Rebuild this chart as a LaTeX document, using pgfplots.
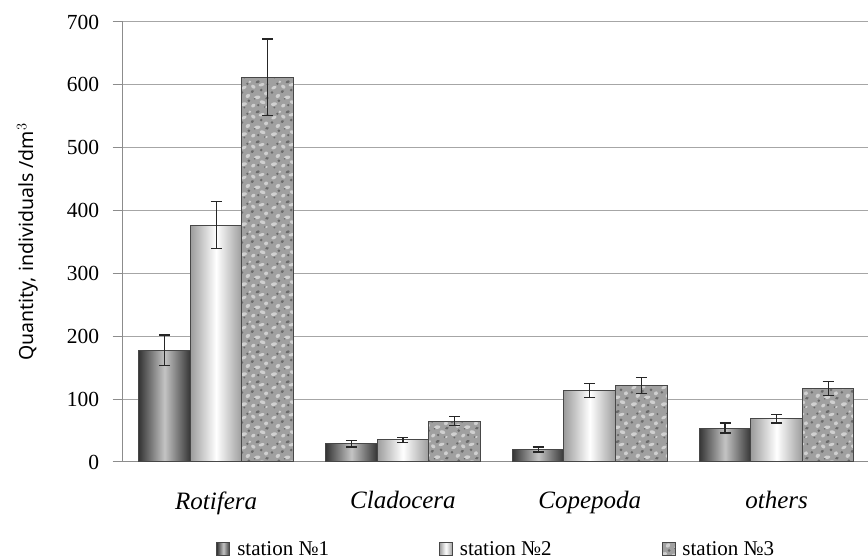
\documentclass[border=0pt]{standalone}
\usepackage{pgfplots}
\pgfplotsset{compat=1.18}
\usepackage{fontspec}
\setmainfont{Liberation Serif}
\newfontfamily\labelfont{Noto Sans}
\usetikzlibrary{patterns}

\definecolor{gridgray}{HTML}{A6A6A6}
\definecolor{axisgray}{HTML}{8C8C8C}
\definecolor{barline}{HTML}{474747}
\definecolor{darkedge}{HTML}{353535}
\definecolor{darkmid}{HTML}{C4C4C4}
\definecolor{lightedge}{HTML}{9C9C9C}
\definecolor{mottlebase}{HTML}{A0A0A0}
\definecolor{mottlelight}{HTML}{D0D0D0}
\definecolor{mottledark}{HTML}{6A6A6A}

% irregular blotches giving a granite-like texture
\pgfdeclarepatternformonly{mottleLight}{\pgfqpoint{0pt}{0pt}}{\pgfqpoint{30pt}{30pt}}{\pgfqpoint{30pt}{30pt}}{%
  \pgfpathellipse{\pgfqpoint{4pt}{5pt}}{\pgfqpoint{3.0pt}{0.8pt}}{\pgfqpoint{-0.7pt}{1.7pt}}
  \pgfpathellipse{\pgfqpoint{13.5pt}{3.5pt}}{\pgfqpoint{2.0pt}{1.2pt}}{\pgfqpoint{-0.8pt}{1.5pt}}
  \pgfpathellipse{\pgfqpoint{23pt}{7pt}}{\pgfqpoint{2.8pt}{-1.0pt}}{\pgfqpoint{0.7pt}{1.7pt}}
  \pgfpathellipse{\pgfqpoint{8pt}{13.5pt}}{\pgfqpoint{1.7pt}{1.7pt}}{\pgfqpoint{-1.4pt}{1.3pt}}
  \pgfpathellipse{\pgfqpoint{17.5pt}{12pt}}{\pgfqpoint{3.2pt}{0.6pt}}{\pgfqpoint{-0.5pt}{1.8pt}}
  \pgfpathellipse{\pgfqpoint{26.5pt}{16pt}}{\pgfqpoint{1.8pt}{1.1pt}}{\pgfqpoint{-0.9pt}{1.7pt}}
  \pgfpathellipse{\pgfqpoint{4pt}{22pt}}{\pgfqpoint{2.5pt}{1.2pt}}{\pgfqpoint{-0.7pt}{1.4pt}}
  \pgfpathellipse{\pgfqpoint{13.5pt}{23pt}}{\pgfqpoint{1.9pt}{-1.5pt}}{\pgfqpoint{1.1pt}{1.4pt}}
  \pgfpathellipse{\pgfqpoint{22pt}{25pt}}{\pgfqpoint{2.9pt}{0.9pt}}{\pgfqpoint{-0.5pt}{1.5pt}}
  \pgfpathellipse{\pgfqpoint{10pt}{28pt}}{\pgfqpoint{1.4pt}{0.6pt}}{\pgfqpoint{-0.3pt}{1.2pt}}
  \pgfpathellipse{\pgfqpoint{27pt}{2pt}}{\pgfqpoint{1.3pt}{0.5pt}}{\pgfqpoint{-0.3pt}{1.0pt}}
  \pgfusepath{fill}}
\pgfdeclarepatternformonly{mottleDark}{\pgfqpoint{0pt}{0pt}}{\pgfqpoint{30pt}{30pt}}{\pgfqpoint{30pt}{30pt}}{%
  \pgfpathcircle{\pgfqpoint{9pt}{8.5pt}}{1.5pt}
  \pgfpathcircle{\pgfqpoint{18.5pt}{4pt}}{1.3pt}
  \pgfpathellipse{\pgfqpoint{27.5pt}{11pt}}{\pgfqpoint{1.9pt}{0.6pt}}{\pgfqpoint{-0.5pt}{1.3pt}}
  \pgfpathcircle{\pgfqpoint{2pt}{17pt}}{1.4pt}
  \pgfpathellipse{\pgfqpoint{12.5pt}{18pt}}{\pgfqpoint{1.8pt}{0.8pt}}{\pgfqpoint{-0.5pt}{1.4pt}}
  \pgfpathcircle{\pgfqpoint{21.5pt}{19.5pt}}{1.5pt}
  \pgfpathcircle{\pgfqpoint{7.5pt}{26pt}}{1.3pt}
  \pgfpathellipse{\pgfqpoint{18pt}{28pt}}{\pgfqpoint{2.0pt}{0.7pt}}{\pgfqpoint{-0.3pt}{1.3pt}}
  \pgfpathcircle{\pgfqpoint{28pt}{25.5pt}}{1.1pt}
  \pgfpathcircle{\pgfqpoint{4.5pt}{1.5pt}}{1.0pt}
  \pgfpathcircle{\pgfqpoint{15pt}{10.5pt}}{0.9pt}
  \pgfpathcircle{\pgfqpoint{25pt}{2pt}}{0.8pt}
  \pgfusepath{fill}}

\pgfplotsset{
  st1/.style={draw=barline, line width=1pt, left color=darkedge, right color=darkedge, middle color=darkmid},
  st2/.style={draw=barline, line width=1pt, left color=lightedge, right color=lightedge, middle color=white},
  st3/.style={draw=barline, line width=1pt, fill=mottlebase,
    postaction={pattern=mottleLight, pattern color=mottlelight},
    postaction={pattern=mottleDark, pattern color=mottledark}},
  errstyle/.style={
    error bars/.cd, y dir=both, y explicit,
    error bar style={black!85, line width=1.2pt},
    error mark options={rotate=90, mark size=5.5pt, black!85, line width=1.2pt}},
}
% one bar drawn at its own x position: station style, x, mean, error
\newcommand{\stbar}[4]{%
  \addplot[ybar, bar width=0.276, bar shift=0pt, #1, forget plot, errstyle]
    coordinates {(#2,#3) +- (0,#4)};}

\begin{document}
\begin{tikzpicture}
\path[use as bounding box] (-122.7pt,-97pt) rectangle (745.3pt,462pt);
\begin{axis}[
  scale only axis,
  width=747.3pt, height=440pt,
  at={(0pt,0pt)}, anchor=south west,
  xmin=-0.5, xmax=3.5, ymin=0, ymax=700,
  axis x line*=bottom, axis y line*=left,
  axis line style={axisgray, line width=1pt},
  ytick={0,100,...,700},
  ymajorgrids, grid style={gridgray, line width=1pt},
  xtick={0,1,2,3},
  xticklabels={Rotifera,Cladocera,Copepoda,others},
  xtick style={draw=none},
  minor xtick={-0.5,0.5,1.5,2.5},
  minor tick length=7pt,
  major tick length=10pt,
  tick align=outside,
  ytick style={axisgray, line width=1pt},
  minor x tick style={axisgray, line width=1pt},
  /pgf/number format/assume math mode=true,
  ticklabel style={font=\fontsize{21.5}{24}\selectfont},
  xticklabel style={font=\fontsize{25}{28}\selectfont\itshape, yshift=-16pt},
  yticklabel style={xshift=-10pt},
  ylabel={Quantity, individuals /dm$^{3}$},
  ylabel style={font=\labelfont\fontsize{19.5}{22}\selectfont, at={(axis description cs:-0.127,0.5)}, anchor=center},
  legend columns=3,
  legend style={draw=none, fill=none, at={(0.5,-0.198)}, anchor=center,
    font=\fontsize{21}{24}\selectfont,
    /tikz/every odd column/.append style={column sep=5pt},
    /tikz/every even column/.append style={column sep=108pt}},
  legend image code/.code={\draw[#1, line width=0.8pt] (0pt,-6pt) rectangle (13pt,7pt);},
]
\addlegendimage{st1}
\addlegendimage{st2}
\addlegendimage{st3}
% Rotifera
\stbar{st1}{-0.276}{178}{24}
\stbar{st2}{0}{377}{37}
\stbar{st3}{0.276}{612}{61}
% Cladocera
\stbar{st1}{0.724}{29}{5}
\stbar{st2}{1}{35}{4}
\stbar{st3}{1.276}{65}{7}
% Copepoda
\stbar{st1}{1.724}{20}{4}
\stbar{st2}{2}{114}{11}
\stbar{st3}{2.276}{122}{13}
% others
\stbar{st1}{2.724}{54}{8}
\stbar{st2}{3}{69}{7}
\stbar{st3}{3.276}{117}{11}
\legend{station №1, station №2, station №3}
\end{axis}
\end{tikzpicture}
\end{document}
